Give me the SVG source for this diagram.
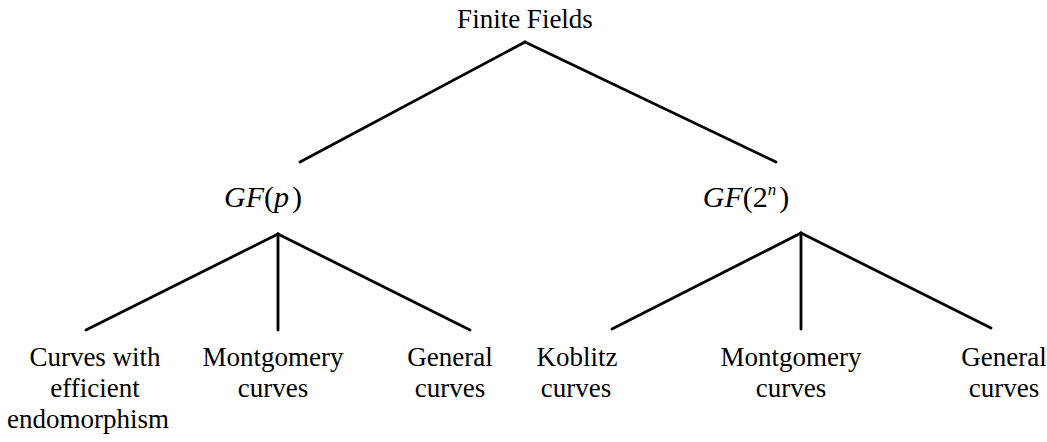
<svg xmlns="http://www.w3.org/2000/svg" width="1047" height="442" viewBox="0 0 1047 442">
<style>
text{font-family:'Liberation Serif','Times New Roman',Times,serif;fill:#000;text-anchor:middle}
.t{font-size:27px}
.m{font-size:30px}
.i{font-style:italic}
.e{stroke:#000;stroke-width:2.8;fill:none;stroke-linecap:round}
</style>
<rect width="1047" height="442" fill="#fff"/>
<g id="connectors">
<line class="e" x1="525" y1="42" x2="300" y2="162"/>
<line class="e" x1="525" y1="42" x2="776" y2="162"/>
<line class="e" x1="278" y1="234" x2="86" y2="330"/>
<line class="e" x1="278" y1="234" x2="278" y2="330"/>
<line class="e" x1="278" y1="234" x2="470" y2="330"/>
<line class="e" x1="801" y1="233" x2="612" y2="329"/>
<line class="e" x1="801" y1="233" x2="801" y2="329"/>
<line class="e" x1="801" y1="233" x2="991" y2="328"/>
</g>
<g id="finite-fields"><text class="t" x="525" y="28">Finite Fields</text></g>
<g id="gf-p"><text class="m" x="263" y="207"><tspan class="i">GF</tspan>(<tspan class="i">p</tspan><tspan dx="3">)</tspan></text></g>
<g id="gf-2n"><text class="m" x="746" y="207"><tspan class="i">GF</tspan>(2<tspan class="i" font-size="17" dy="-12">n</tspan><tspan dy="12" dx="3">)</tspan></text></g>
<g id="curves-endo">
<text class="t" x="95" y="366">Curves with</text>
<text class="t" x="95" y="397">efficient</text>
<text class="t" x="88" y="428">endomorphism</text>
</g>
<g id="montgomery-p">
<text class="t" x="273" y="366">Montgomery</text>
<text class="t" x="273" y="397">curves</text>
</g>
<g id="general-p">
<text class="t" x="450" y="366">General</text>
<text class="t" x="450" y="397">curves</text>
</g>
<g id="koblitz">
<text class="t" x="577" y="366">Koblitz</text>
<text class="t" x="576" y="397">curves</text>
</g>
<g id="montgomery-2n">
<text class="t" x="791" y="366">Montgomery</text>
<text class="t" x="791" y="397">curves</text>
</g>
<g id="general-2n">
<text class="t" x="1004" y="366">General</text>
<text class="t" x="1004" y="397">curves</text>
</g>
</svg>
